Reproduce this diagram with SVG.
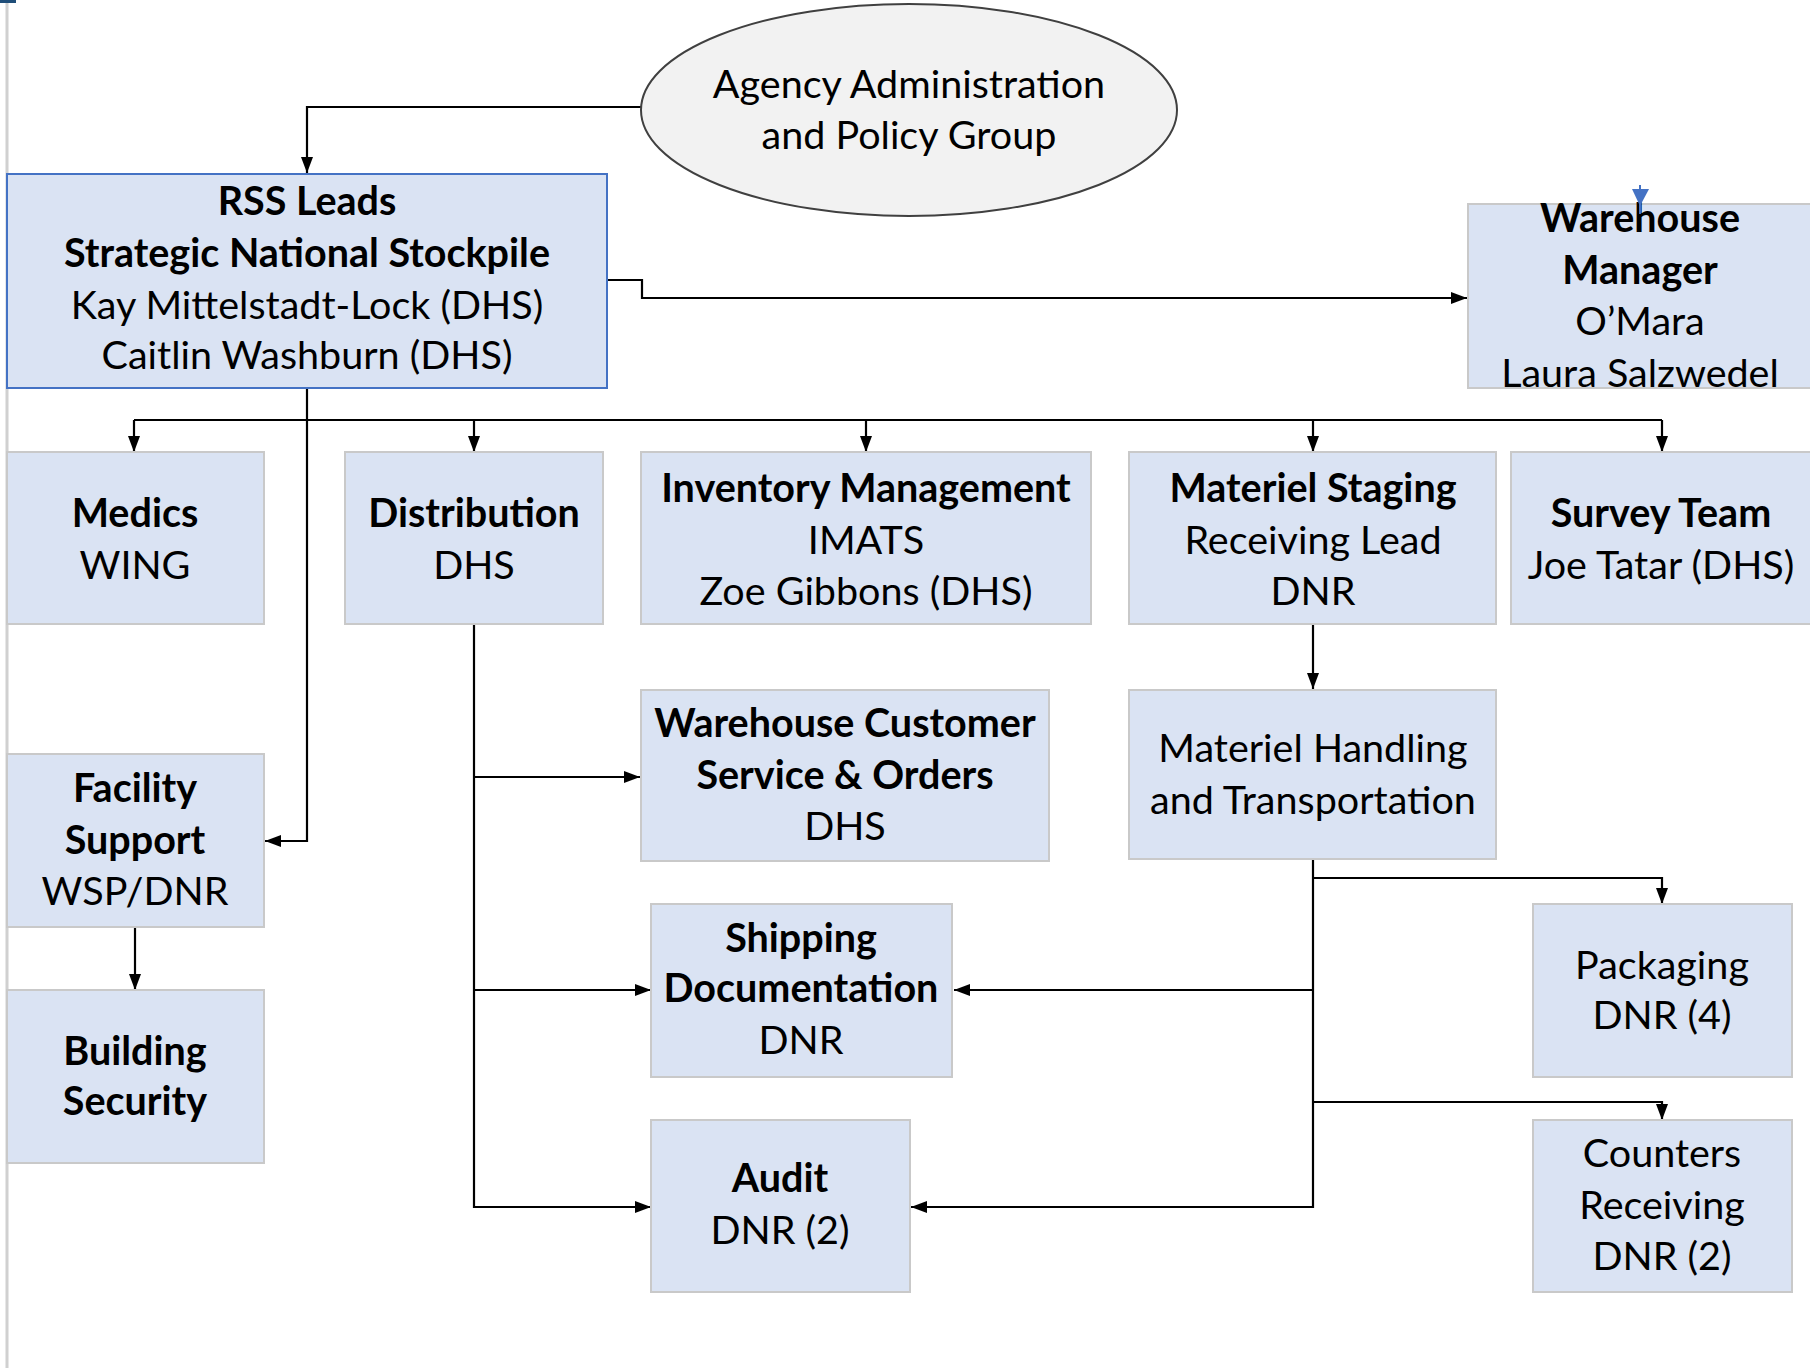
<svg xmlns="http://www.w3.org/2000/svg" width="1810" height="1368" viewBox="0 0 1810 1368">
<defs>
<marker id="ah" markerUnits="userSpaceOnUse" markerWidth="16" markerHeight="12" refX="16" refY="6" orient="auto">
<path d="M0,0 L16,6 L0,12 z" fill="#000"/>
</marker>
<style>
.box{fill:#dae3f3;stroke:#c9c9c9;stroke-width:2}
.lead{fill:#dae3f3;stroke:#4472c4;stroke-width:2}
.t{font-family:Lato,"Open Sans","Liberation Sans",sans-serif;font-size:39.5px;fill:#000;text-anchor:middle}
.b{font-weight:bold}
.c{fill:none;stroke:#000;stroke-width:2.2}
.ca{fill:none;stroke:#000;stroke-width:2.2;marker-end:url(#ah)}
</style>
</defs>
<rect width="1810" height="1368" fill="#fff"/>
<rect x="0" y="0" width="16" height="3" fill="#1f4e79"/>
<line x1="7" y1="3" x2="7" y2="1368" stroke="#d0d0d0" stroke-width="3"/>

<g id="connectors">
<path class="ca" d="M641,107 H307 V173"/>
<path class="ca" d="M607,280 H642 V298 H1467"/>
<path class="ca" d="M307,388 V841 H265"/>
<path class="c" d="M134,420 H1662"/>
<path class="ca" d="M134,420 V452"/>
<path class="ca" d="M474,420 V452"/>
<path class="ca" d="M866,420 V452"/>
<path class="ca" d="M1313,420 V452"/>
<path class="ca" d="M1662,420 V452"/>
<path class="ca" d="M135,927 V990"/>
<path class="ca" d="M474,624 V1207 H651"/>
<path class="ca" d="M474,777 H640"/>
<path class="ca" d="M474,990 H651"/>
<path class="ca" d="M1313,624 V689"/>
<path class="ca" d="M1313,859 V1207 H911"/>
<path class="ca" d="M1313,878 H1662 V904"/>
<path class="ca" d="M1313,1102 H1662 V1120"/>
<path class="ca" d="M1313,990 H954"/>
</g>

<g id="agency">
<ellipse cx="909" cy="110" rx="268" ry="106" fill="#f2f2f2" stroke="#404040" stroke-width="2"/>
<text class="t" x="909" y="98">Agency Administration</text>
<text class="t" x="909" y="149">and Policy Group</text>
</g>

<g id="rss-leads">
<rect class="lead" x="7" y="174" width="600" height="214"/>
<text class="t b" x="307" y="215">RSS Leads</text>
<text class="t b" x="307" y="267">Strategic National Stockpile</text>
<text class="t" x="307" y="319">Kay Mittelstadt-Lock (DHS)</text>
<text class="t" x="307" y="369">Caitlin Washburn (DHS)</text>
</g>

<g id="warehouse-manager">
<rect class="box" x="1468" y="204" width="346" height="184"/>
<text class="t b" x="1640" y="232">Warehouse</text>
<text class="t b" x="1640" y="284">Manager</text>
<text class="t" x="1640" y="335">O’Mara</text>
<text class="t" x="1640" y="387">Laura Salzwedel</text>
<line x1="1640" y1="185" x2="1640" y2="214" stroke="#4472c4" stroke-width="2"/>
<path d="M1632,189 L1649,189 L1640,206 z" fill="#4472c4"/>
</g>

<g id="medics">
<rect class="box" x="7" y="452" width="257" height="172"/>
<text class="t b" x="135" y="527">Medics</text>
<text class="t" x="135" y="579">WING</text>
</g>

<g id="distribution">
<rect class="box" x="345" y="452" width="258" height="172"/>
<text class="t b" x="474" y="527">Distribution</text>
<text class="t" x="474" y="579">DHS</text>
</g>

<g id="inventory">
<rect class="box" x="641" y="452" width="450" height="172"/>
<text class="t b" x="866" y="502">Inventory Management</text>
<text class="t" x="866" y="554">IMATS</text>
<text class="t" x="866" y="605">Zoe Gibbons (DHS)</text>
</g>

<g id="materiel-staging">
<rect class="box" x="1129" y="452" width="367" height="172"/>
<text class="t b" x="1313" y="502">Materiel Staging</text>
<text class="t" x="1313" y="554">Receiving Lead</text>
<text class="t" x="1313" y="605">DNR</text>
</g>

<g id="survey-team">
<rect class="box" x="1511" y="452" width="302" height="172"/>
<text class="t b" x="1661" y="527">Survey Team</text>
<text class="t" x="1661" y="579">Joe Tatar (DHS)</text>
</g>

<g id="facility-support">
<rect class="box" x="7" y="754" width="257" height="173"/>
<text class="t b" x="135" y="802">Facility</text>
<text class="t b" x="135" y="854">Support</text>
<text class="t" x="135" y="905">WSP/DNR</text>
</g>

<g id="building-security">
<rect class="box" x="7" y="990" width="257" height="173"/>
<text class="t b" x="135" y="1065">Building</text>
<text class="t b" x="135" y="1115">Security</text>
</g>

<g id="customer-service">
<rect class="box" x="641" y="690" width="408" height="171"/>
<text class="t b" x="845" y="737">Warehouse Customer</text>
<text class="t b" x="845" y="789">Service &amp; Orders</text>
<text class="t" x="845" y="840">DHS</text>
</g>

<g id="materiel-handling">
<rect class="box" x="1129" y="690" width="367" height="169"/>
<text class="t" x="1313" y="762">Materiel Handling</text>
<text class="t" x="1313" y="814">and Transportation</text>
</g>

<g id="shipping">
<rect class="box" x="651" y="904" width="301" height="173"/>
<text class="t b" x="801" y="952">Shipping</text>
<text class="t b" x="801" y="1002">Documentation</text>
<text class="t" x="801" y="1054">DNR</text>
</g>

<g id="audit">
<rect class="box" x="651" y="1120" width="259" height="172"/>
<text class="t b" x="780" y="1192">Audit</text>
<text class="t" x="780" y="1244">DNR (2)</text>
</g>

<g id="packaging">
<rect class="box" x="1533" y="904" width="259" height="173"/>
<text class="t" x="1662" y="979">Packaging</text>
<text class="t" x="1662" y="1029">DNR (4)</text>
</g>

<g id="counters">
<rect class="box" x="1533" y="1120" width="259" height="172"/>
<text class="t" x="1662" y="1167">Counters</text>
<text class="t" x="1662" y="1219">Receiving</text>
<text class="t" x="1662" y="1270">DNR (2)</text>
</g>
</svg>
